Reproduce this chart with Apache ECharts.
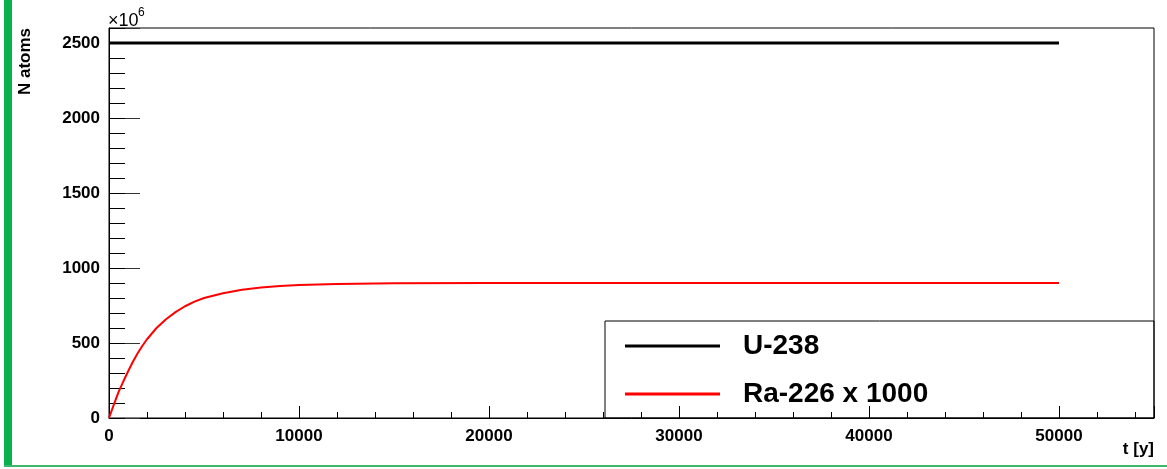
<!DOCTYPE html>
<html>
<head>
<meta charset="utf-8">
<script src="https://cdn.jsdelivr.net/npm/echarts@6/dist/echarts.min.js"></script>
<style>
  html, body { margin: 0; padding: 0; background: #fff; }
  #main { width: 1167px; height: 469px; }
</style>
</head>
<body>
<div id="main"></div>
<script>
// values (N in units of 1e6)
const uTimes = [0, 10000, 20000, 30000, 40000, 50000];
const uAtoms = [2500, 2500, 2500, 2500, 2500, 2500];

const raTimes = [0, 250, 500, 750, 1000, 1250, 1500, 1750, 2000, 2500, 3000, 3500, 4000, 4500, 5000, 6000, 7000, 8000, 9000, 10000, 12000, 15000, 20000, 30000, 50000];
const raAtoms = [0, 88, 172, 243, 310, 373, 430, 480, 525, 600, 658, 706, 745, 776, 800, 832, 855, 870, 880, 887, 893, 898, 900, 900, 900];

const seriesNames = ['U-238', 'Ra-226 x 1000'];

const font = '"Liberation Sans", Arial, sans-serif';

function pairs(xs, ys) {
  return xs.map((x, i) => [x, ys[i]]);
}

const myChart = echarts.init(document.getElementById('main'));

const option = {
  animation: false,
  backgroundColor: '#fff',
  grid: {
    left: 109, right: 13, top: 28, bottom: 51,
    show: true, borderColor: '#000', borderWidth: 1,
    backgroundColor: 'transparent'
  },
  xAxis: [{
    type: 'value', min: 0, max: 55000, interval: 10000,
    axisLine: { onZero: false, lineStyle: { color: '#000', width: 1 } },
    axisTick: { inside: true, length: 12, lineStyle: { color: '#000' } },
    axisLabel: {
      margin: 10, color: '#000', fontFamily: font, fontWeight: 'bold', fontSize: 17,
      formatter: v => (v > 50000 ? '' : String(v))
    },
    splitLine: { show: false }
  }, {
    // minor ticks
    type: 'value', min: 0, max: 55000, interval: 2000, position: 'bottom',
    axisLine: { show: false, onZero: false },
    axisTick: { inside: true, length: 6, lineStyle: { color: '#000' } },
    axisLabel: { show: false },
    splitLine: { show: false }
  }],
  yAxis: [{
    type: 'value', min: 0, max: 2600, interval: 500,
    axisLine: { show: true, onZero: false, lineStyle: { color: '#000', width: 1 } },
    axisTick: { show: true, inside: true, length: 31, lineStyle: { color: '#333' } },
    axisLabel: {
      margin: 9, color: '#000', fontFamily: font, fontWeight: 'bold', fontSize: 17,
      formatter: v => (v > 2500 ? '' : String(v))
    },
    splitLine: { show: false }
  }, {
    type: 'value', min: 0, max: 2600, interval: 100, position: 'left',
    axisLine: { show: false, onZero: false },
    axisTick: { show: true, inside: true, length: 16, lineStyle: { color: '#000' } },
    axisLabel: { show: false },
    splitLine: { show: false }
  }],
  legend: {
    data: seriesNames,
    orient: 'vertical',
    left: 625, top: 332,
    padding: 0,
    icon: 'rect',
    itemWidth: 95, itemHeight: 3, itemGap: 20,
    selectedMode: false,
    textStyle: {
      color: '#000', fontFamily: font, fontWeight: 'bold', fontSize: 28,
      lineHeight: 28, padding: [0, 0, 0, 18]
    }
  },
  graphic: [
    { type: 'rect', left: 4, top: 0, shape: { width: 8, height: 467 }, style: { fill: '#0bb04f' } },
    { type: 'rect', left: 4, top: 465, shape: { width: 1163, height: 2 }, style: { fill: '#3cb86a' } },
    { type: 'rect', shape: { x: 605, y: 321, width: 549, height: 97 }, style: { fill: 'none', stroke: '#000', lineWidth: 1 } },
    { type: 'text', x: 25, y: 28, rotation: Math.PI / 2,
      style: { text: 'N atoms', align: 'right', verticalAlign: 'middle', fill: '#000', font: 'bold 17px ' + font } },
    { type: 'text', x: 1154, y: 449,
      style: { text: 't [y]', align: 'right', verticalAlign: 'middle', fill: '#000', font: 'bold 17px ' + font } },
    { type: 'text', x: 108, y: 21,
      style: { text: '×10', align: 'left', verticalAlign: 'middle', fill: '#000', font: '18px ' + font } },
    { type: 'text', x: 138, y: 13,
      style: { text: '6', align: 'left', verticalAlign: 'middle', fill: '#000', font: '12px ' + font } }
  ],
  series: [{
    name: seriesNames[0],
    type: 'line',
    symbol: 'none',
    lineStyle: { color: '#000', width: 3 },
    itemStyle: { color: '#000' },
    data: pairs(uTimes, uAtoms)
  }, {
    name: seriesNames[1],
    type: 'line',
    symbol: 'none',
    lineStyle: { color: '#ff0000', width: 2 },
    itemStyle: { color: '#ff0000' },
    data: pairs(raTimes, raAtoms)
  }]
};

myChart.setOption(option);
</script>
</body>
</html>
